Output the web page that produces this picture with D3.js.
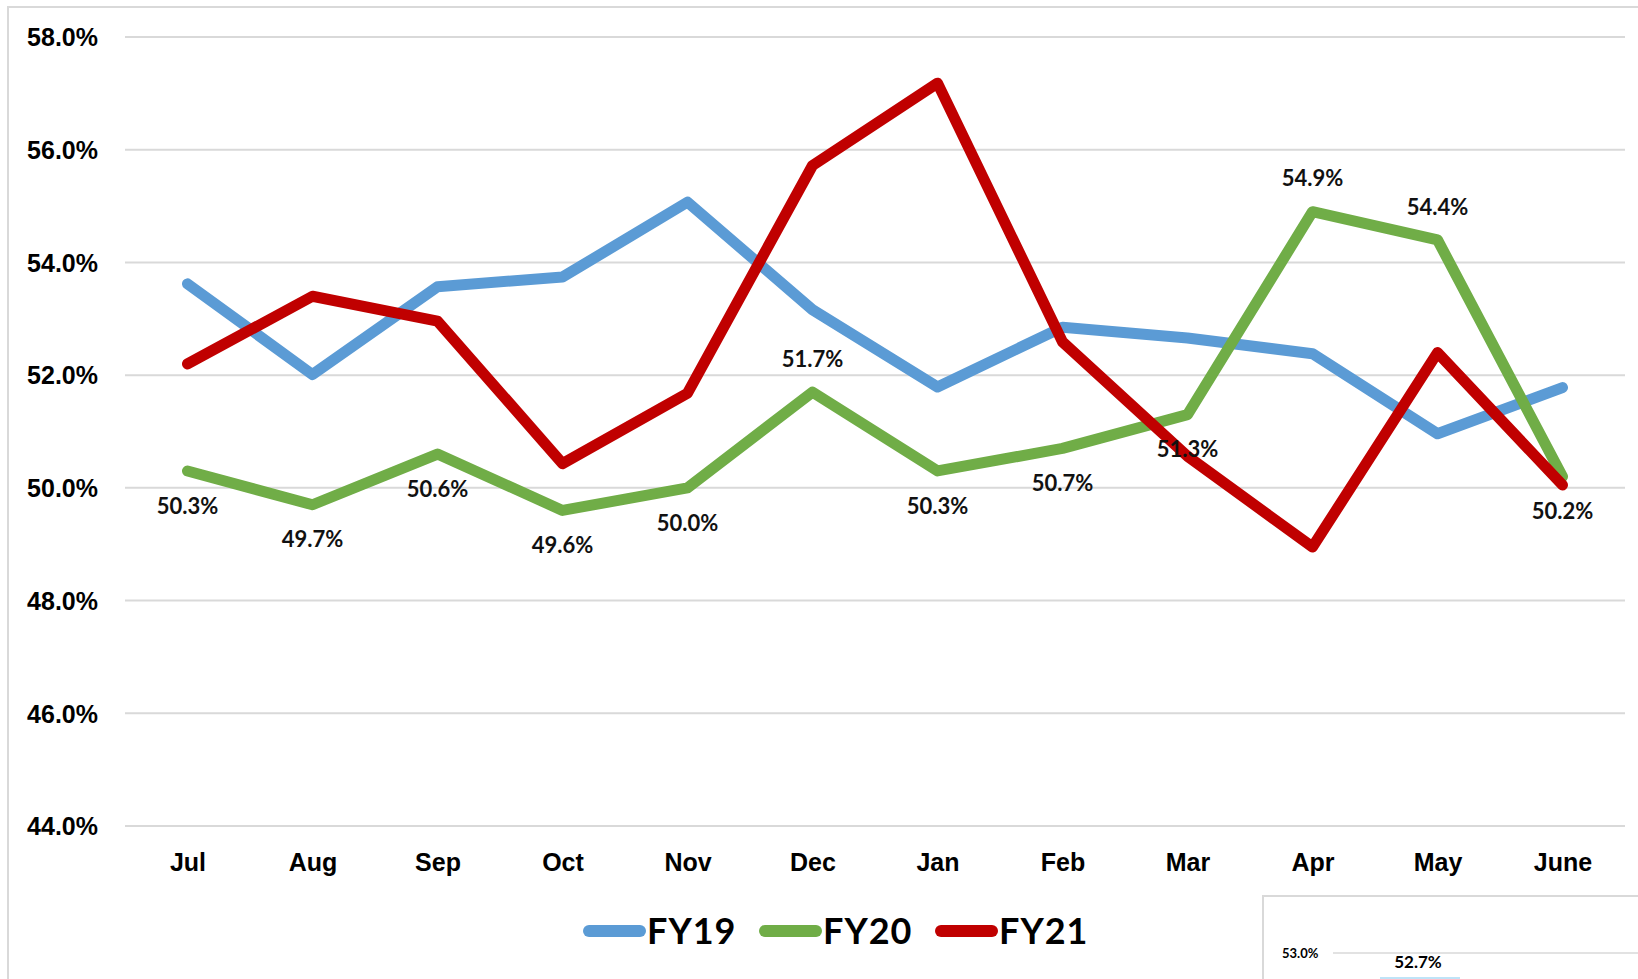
<!DOCTYPE html>
<html>
<head>
<meta charset="utf-8">
<script src="https://d3js.org/d3.v7.min.js"></script>
<style>
	body { margin: 0; background: #fff; }
	svg { display: block; font-family: Lato, "Open Sans", sans-serif; }
	.axis text { font-weight: bold; fill: #000; }
	.lbl { font-weight: bold; font-size: 22px; fill: #111; }
</style>
</head>
<body>
<div id="graph"></div>
<script>
const months = ["Jul", "Aug", "Sep", "Oct", "Nov", "Dec", "Jan", "Feb", "Mar", "Apr", "May", "June"];
const fy19 = [53.62, 52.01, 53.57, 53.74, 55.07, 53.16, 51.79, 52.85, 52.66, 52.38, 50.96, 51.78];
const fy20 = [50.3, 49.7, 50.6, 49.6, 50.0, 51.7, 50.3, 50.7, 51.3, 54.9, 54.4, 50.2];
const fy21 = [52.20, 53.40, 52.96, 50.43, 51.68, 55.72, 57.18, 52.59, 50.56, 48.95, 52.40, 50.05];
const yTicks = [44, 46, 48, 50, 52, 54, 56, 58];
// FY20 labels that sit above the point, the rest go below
const labelsAbove = ["Dec", "Apr", "May"];

const width = 1638, height = 979;
const svg = d3.select("#graph").append("svg").attr("width", width).attr("height", height);

// outer chart frame
svg.append("rect").attr("x", 8).attr("y", 7).attr("width", width).attr("height", height)
	.attr("fill", "none").attr("stroke", "#d9d9d9").attr("stroke-width", 2);

let x = d3.scalePoint().domain(months).range([125, 1625]).padding(0.5);
let y = d3.scaleLinear().domain([44, 58]).range([826, 37]);

// gridlines
svg.append("g").selectAll("line").data(yTicks).join("line")
	.attr("x1", 125).attr("x2", 1625)
	.attr("y1", d => y(d)).attr("y2", d => y(d))
	.attr("stroke", "#d9d9d9").attr("stroke-width", 2);

let yaxis = svg.append("g").attr("class", "axis")
	.attr("transform", "translate(98,0)")
	.call(d3.axisLeft(y).tickValues(yTicks).tickSize(0).tickPadding(0).tickFormat(d => d.toFixed(1) + "%"));
yaxis.select(".domain").remove();
yaxis.selectAll("text").attr("font-size", 25).attr("dy", "0.35em");

let xaxis = svg.append("g").attr("class", "axis")
	.attr("transform", "translate(0,826)")
	.call(d3.axisBottom(x).tickSize(0).tickPadding(0));
xaxis.select(".domain").remove();
xaxis.selectAll("text").attr("font-size", 25).attr("dy", 0).attr("y", 45);

const series = [
	{name: "FY19", values: fy19, color: "#5B9BD5"},
	{name: "FY20", values: fy20, color: "#70AD47"},
	{name: "FY21", values: fy21, color: "#C00000"}
];

let line = d3.line().x((d, i) => x(months[i])).y(d => y(d));

series.forEach(s => {
	svg.append("path").attr("d", line(s.values))
		.attr("fill", "none").attr("stroke", s.color).attr("stroke-width", 11)
		.attr("stroke-linejoin", "round").attr("stroke-linecap", "round");
});

// data labels for FY20
svg.append("g").selectAll("text").data(fy20).join("text")
	.attr("class", "lbl")
	.attr("text-anchor", "middle")
	.attr("x", (d, i) => x(months[i]))
	.attr("y", (d, i) => labelsAbove.includes(months[i]) ? y(d) - 33 : y(d) + 35)
	.attr("dy", "0.35em")
	.text(d => d.toFixed(1) + "%");

// legend
const legendX = [589, 765, 941];
series.forEach((s, i) => {
	let g = svg.append("g").attr("transform", `translate(${legendX[i]},931)`);
	g.append("line").attr("x1", 0).attr("x2", 51).attr("y1", 0).attr("y2", 0)
		.attr("stroke", s.color).attr("stroke-width", 12).attr("stroke-linecap", "round");
	g.append("text").attr("x", 58).attr("dy", "0.36em")
		.attr("font-size", 36).attr("font-weight", "bold").attr("fill", "#000")
		.attr("letter-spacing", 1)
		.text(s.name);
});

// fragment of another chart pasted at bottom right
let frag = svg.append("g");
frag.append("rect").attr("x", 1263).attr("y", 896).attr("width", 400).attr("height", 100)
	.attr("fill", "#fff").attr("stroke", "#d9d9d9").attr("stroke-width", 2);
frag.append("line").attr("x1", 1333).attr("x2", 1638).attr("y1", 953).attr("y2", 953)
	.attr("stroke", "#d9d9d9").attr("stroke-width", 1.5);
frag.append("text").attr("x", 1282).attr("y", 953).attr("dy", "0.35em")
	.attr("font-size", 13).attr("font-weight", "bold").text("53.0%");
frag.append("text").attr("x", 1418).attr("y", 962).attr("dy", "0.35em").attr("text-anchor", "middle")
	.attr("font-size", 17).attr("font-weight", "bold").text("52.7%");
frag.append("rect").attr("x", 1380).attr("y", 977).attr("width", 80).attr("height", 4)
	.attr("fill", "#bfe3f7");
</script>
</body>
</html>
